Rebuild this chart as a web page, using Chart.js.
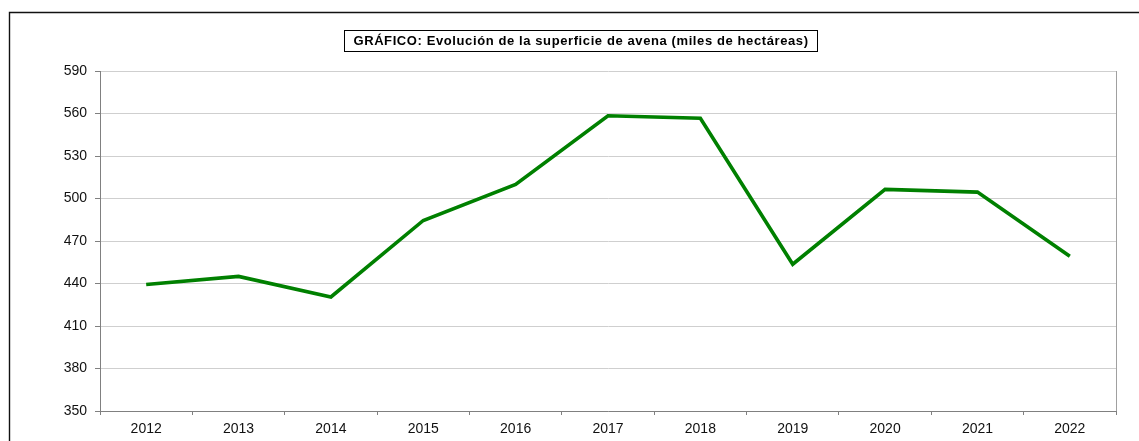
<!DOCTYPE html>
<html>
<head>
<meta charset="utf-8">
<script src="https://cdn.jsdelivr.net/npm/chart.js@4/dist/chart.umd.min.js"></script>
<style>
html,body{margin:0;padding:0;background:#fff;}
#wrap{position:relative;width:1139px;height:441px;}
</style>
</head>
<body>
<div id="wrap"><canvas id="c" width="1139" height="441"></canvas></div>
<script>
const years = ['2012','2013','2014','2015','2016','2017','2018','2019','2020','2021','2022'];
const superficie = [439.3, 445, 430.5, 484.5, 510, 558.4, 556.6, 453.6, 506.4, 504.5, 459.3];
const yTicks = [350, 380, 410, 440, 470, 500, 530, 560, 590];
const titleText = 'GRÁFICO: Evolución de la superficie de avena (miles de hectáreas)';

const FONT = '"Liberation Sans", Arial, sans-serif';

const framePlugin = {
  id: 'frame',
  beforeDraw(chart) {
    const ctx = chart.ctx;
    ctx.save();
    ctx.fillStyle = '#fff';
    ctx.fillRect(0, 0, chart.width, chart.height);
    ctx.strokeStyle = '#111';
    ctx.lineWidth = 1.4;
    ctx.beginPath();
    ctx.moveTo(9.5, chart.height + 2);
    ctx.lineTo(9.5, 12.5);
    ctx.lineTo(chart.width + 2, 12.5);
    ctx.stroke();
    ctx.restore();
  },
  afterDraw(chart) {
    const ctx = chart.ctx;
    const a = chart.chartArea;
    ctx.save();
    ctx.strokeStyle = '#a0a0a0';
    ctx.lineWidth = 1;
    ctx.beginPath();
    ctx.moveTo(Math.round(a.right) + 0.5, a.top);
    ctx.lineTo(Math.round(a.right) + 0.5, a.bottom);
    ctx.stroke();
    // title box
    ctx.font = 'bold 13px ' + FONT;
    ctx.letterSpacing = '0.6px';
    ctx.fillStyle = '#000';
    ctx.textAlign = 'center';
    ctx.textBaseline = 'middle';
    const cx = 581, cy = 41.5;
    const w = ctx.measureText(titleText).width;
    ctx.fillText(titleText, cx, cy);
    ctx.letterSpacing = '0px';
    ctx.strokeStyle = '#000';
    ctx.lineWidth = 1;
    ctx.strokeRect(Math.round(cx - w / 2 - 9) + 0.5, 30.5, Math.round(w + 18), 21);
    ctx.restore();
  }
};

new Chart(document.getElementById('c'), {
  type: 'line',
  data: {
    labels: years,
    datasets: [{
      data: superficie,
      borderColor: '#008000',
      borderWidth: 3.6,
      pointRadius: 0,
      tension: 0,
      fill: false
    }]
  },
  options: {
    responsive: false,
    animation: false,
    devicePixelRatio: 1,
    layout: { padding: { left: 0, top: 71, right: 23, bottom: 0 } },
    plugins: { legend: { display: false }, tooltip: { enabled: false }, title: { display: false } },
    scales: {
      x: {
        offset: true,
        afterFit(scale) { scale.height = 30; },
        grid: { offset: true, drawOnChartArea: false, drawTicks: true, tickLength: 4, tickColor: '#808080' },
        border: { display: true, color: '#808080', width: 1 },
        ticks: { color: '#111', font: { family: FONT, size: 14 }, padding: 6, maxRotation: 0 }
      },
      y: {
        min: 350, max: 590,
        afterFit(scale) { scale.width = 100; },
        afterBuildTicks(scale) { scale.ticks = yTicks.map(v => ({ value: v })); },
        grid: { color: '#cfcfcf', lineWidth: 1, tickLength: 5, tickColor: '#808080' },
        border: { display: true, color: '#808080', width: 1 },
        ticks: { color: '#111', font: { family: FONT, size: 14 }, padding: 8 }
      }
    }
  },
  plugins: [framePlugin]
});
</script>
</body>
</html>
